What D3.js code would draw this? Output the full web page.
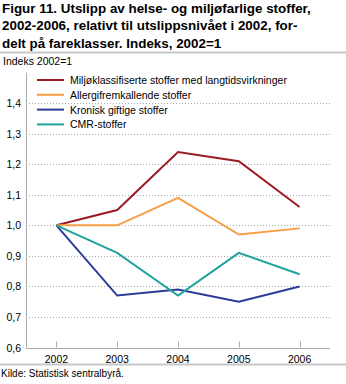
<!DOCTYPE html>
<html>
<head>
<meta charset="utf-8">
<script src="https://cdn.jsdelivr.net/npm/d3@7"></script>
<style>
  body { margin: 0; background: #fff; }
  text { font-family: "Liberation Sans", Arial, sans-serif; }
</style>
</head>
<body>
<script>
// data
var years = ["2002", "2003", "2004", "2005", "2006"];
var seriesNames = [
  "Miljøklassifiserte stoffer med langtidsvirkninger",
  "Allergifremkallende stoffer",
  "Kronisk giftige stoffer",
  "CMR-stoffer"
];
var miljo = [1.0, 1.05, 1.24, 1.21, 1.06];
var allergi = [1.0, 1.0, 1.09, 0.97, 0.99];
var kronisk = [1.0, 0.77, 0.79, 0.75, 0.80];
var cmr = [1.0, 0.91, 0.77, 0.91, 0.84];
var yTicks = [0.6, 0.7, 0.8, 0.9, 1.0, 1.1, 1.2, 1.3, 1.4];
var colors = ["#9b1b22", "#f79d45", "#2b3b97", "#1ea39a"];

var width = 346, height = 384;
var margin = { top: 72.6, right: 16, bottom: 36, left: 26 };

var svg = d3.select("body").append("svg")
  .attr("width", width)
  .attr("height", height);

// title
var titleLines = [
  "Figur 11. Utslipp av helse- og miljøfarlige stoffer,",
  "2002-2006, relativt til utslippsnivået i 2002, for-",
  "delt på fareklasser. Indeks, 2002=1"
];
svg.append("g")
  .selectAll("text")
  .data(titleLines)
  .enter()
  .append("text")
  .attr("x", 2)
  .attr("y", function(d, i) { return 13 + i * 17.3; })
  .text(function(d) { return d; })
  .style("font-size", "13.4px")
  .style("font-weight", "bold")
  .attr("fill", "#000");

svg.append("line")
  .attr("x1", 0).attr("x2", 346)
  .attr("y1", 52.5).attr("y2", 52.5)
  .attr("stroke", "#c8c8c8")
  .attr("stroke-width", 2);

svg.append("text")
  .attr("x", 3)
  .attr("y", 65)
  .text("Indeks 2002=1")
  .style("font-size", "10.5px");

var x = d3.scalePoint()
  .domain(years)
  .range([margin.left, 330])
  .padding(0.5);

var y = d3.scaleLinear()
  .domain([0.6, 1.5])
  .range([347.5, margin.top]);

var fmt = function(d) { return d3.format(".1f")(d).replace(".", ","); };

// grid
svg.append("g")
  .selectAll("line")
  .data(yTicks.slice(1))
  .enter()
  .append("line")
  .attr("x1", margin.left).attr("x2", 330)
  .attr("y1", function(d) { return Math.round(y(d)) + 0.5; })
  .attr("y2", function(d) { return Math.round(y(d)) + 0.5; })
  .attr("stroke", "#aaa")
  .attr("stroke-dasharray", "1,2");

// y axis
svg.append("line")
  .attr("x1", margin.left + 0.5).attr("x2", margin.left + 0.5)
  .attr("y1", margin.top).attr("y2", y(0.6))
  .attr("stroke", "#aaa");

svg.append("g")
  .selectAll("text")
  .data(yTicks)
  .enter()
  .append("text")
  .attr("x", 21)
  .attr("y", function(d) { return y(d) + 4; })
  .attr("text-anchor", "end")
  .text(fmt)
  .style("font-size", "10.5px");

// x axis
svg.append("line")
  .attr("x1", margin.left).attr("x2", 330)
  .attr("y1", Math.round(y(0.6)) + 0.5).attr("y2", Math.round(y(0.6)) + 0.5)
  .attr("stroke", "#aaa");

svg.append("g")
  .selectAll("line")
  .data(years)
  .enter()
  .append("line")
  .attr("x1", function(d) { return Math.round(x(d)) + 0.5; })
  .attr("x2", function(d) { return Math.round(x(d)) + 0.5; })
  .attr("y1", y(0.6) - 6).attr("y2", y(0.6))
  .attr("stroke", "#aaa");

svg.append("g")
  .selectAll("text")
  .data(years)
  .enter()
  .append("text")
  .attr("x", function(d) { return x(d); })
  .attr("y", 362.5)
  .attr("text-anchor", "middle")
  .text(function(d) { return d; })
  .style("font-size", "10.5px");

// lines
var allSeries = [miljo, allergi, kronisk, cmr];

var lineFunction = d3.line()
  .x(function(d, i) { return x(years[i]); })
  .y(function(d) { return y(d); });

svg.append("g")
  .selectAll("path")
  .data(allSeries)
  .enter()
  .append("path")
  .attr("d", lineFunction)
  .attr("fill", "none")
  .attr("stroke", function(d, i) { return colors[i]; })
  .attr("stroke-width", 2);

// legend
var legend = svg.append("g")
  .selectAll("g")
  .data(seriesNames)
  .enter()
  .append("g")
  .attr("transform", function(d, i) { return "translate(37," + (80 + i * 14.8) + ")"; });

legend.append("rect")
  .attr("x", 0).attr("y", -1.5)
  .attr("width", 27).attr("height", 3)
  .attr("fill", "#fff");

legend.append("line")
  .attr("x1", 0).attr("x2", 27)
  .attr("y1", 0).attr("y2", 0)
  .attr("stroke", function(d, i) { return colors[i]; })
  .attr("stroke-width", 2);

legend.append("text")
  .attr("x", 33)
  .attr("y", 4)
  .text(function(d) { return d; })
  .style("font-size", "10.5px");

// footer
svg.append("line")
  .attr("x1", 0).attr("x2", 346)
  .attr("y1", 364.5).attr("y2", 364.5)
  .attr("stroke", "#c8c8c8")
  .attr("stroke-width", 2);

svg.append("text")
  .attr("x", 1)
  .attr("y", 376.5)
  .text("Kilde: Statistisk sentralbyrå.")
  .style("font-size", "10px");
</script>
</body>
</html>
